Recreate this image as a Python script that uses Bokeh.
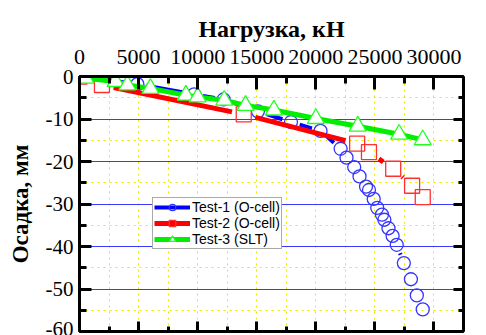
import math

from bokeh.plotting import figure
from bokeh.models import (Range1d, LinearAxis, SingleIntervalTicker, Legend, LegendItem,
                          CustomLabelingPolicy)
from bokeh.embed import file_html
from bokeh.resources import INLINE

# Load (kN) against settlement (mm) for three pile tests
load_test1 = [0, 4900, 9700, 12200, 15100, 17900, 20400, 22100, 22600, 23250, 23700,
              24250, 24500, 24900, 25200, 25600, 25800, 26150, 26500, 26850, 27450,
              28050, 28550, 29050]
settle_test1 = [0, -1.8, -4.2, -5.4, -8.2, -10.7, -12.8, -17.0, -19.1, -21.3, -23.5,
                -25.9, -26.7, -28.8, -30.9, -32.5, -33.7, -35.7, -37.5, -39.6, -43.9,
                -47.7, -51.5, -54.8]

load_test2 = [0, 1900, 13900, 23500, 24500, 26550, 28150, 29050]
settle_test2 = [0, -2.0, -8.9, -15.8, -17.8, -21.7, -25.7, -28.4]

load_test3 = [0, 500, 3050, 4050, 6000, 9000, 10000, 12250, 14050, 16450, 20000,
              23550, 27050, 29050]
settle_test3 = [0, -0.4, -1.2, -2.0, -2.8, -4.4, -4.8, -5.6, -6.8, -7.9, -9.9,
                -11.7, -13.6, -14.9]

series_labels = ["Test-1 (O-cell)", "Test-2 (O-cell)", "Test-3 (SLT)"]

x_tick_values = [0, 5000, 10000, 15000, 20000, 25000, 30000]
x_tick_labels = ["0", "5000", "10000", "15000", "20000", "25000", "30000"]
y_tick_values = [0, -10, -20, -30, -40, -50, -60]
y_tick_labels = ["0", "-10", "-20", "-30", "-40", "-50", "-60"]

X_MAX = 32500
Y_MIN, Y_MAX = -60, 0

W, H = 486, 335
B_LEFT, B_RIGHT, B_TOP, B_BOTTOM = 79, 23, 76, 4
FRAME_W = W - B_LEFT - B_RIGHT
FRAME_H = H - B_TOP - B_BOTTOM

p = figure(width=W, height=H, x_range=Range1d(0, X_MAX), y_range=Range1d(Y_MIN, Y_MAX),
           x_axis_location="above", output_backend="svg", toolbar_location=None,
           min_border_left=B_LEFT, min_border_right=B_RIGHT,
           min_border_top=B_TOP, min_border_bottom=B_BOTTOM)
p.outline_line_color = None
p.background_fill_color = "white"
p.border_fill_color = "white"

x_ticker = SingleIntervalTicker(interval=5000, num_minor_ticks=2)
y_ticker = SingleIntervalTicker(interval=10, num_minor_ticks=2)

bottom_axis = LinearAxis()
right_axis = LinearAxis()
p.add_layout(bottom_axis, "below")
p.add_layout(right_axis, "right")

top_axis = p.xaxis[0]
left_axis = p.yaxis[0]


def style_axis(ax, ticker, major_in, minor_in):
    ax.ticker = ticker
    ax.axis_line_width = 3
    ax.axis_line_color = "black"
    ax.major_tick_in = major_in
    ax.major_tick_out = 0
    ax.minor_tick_in = minor_in
    ax.minor_tick_out = 0
    ax.major_tick_line_width = 3
    ax.minor_tick_line_width = 3
    ax.major_tick_line_color = "black"
    ax.minor_tick_line_color = "black"


style_axis(top_axis, x_ticker, 13, 7)
style_axis(bottom_axis, x_ticker, 10, 5)
style_axis(left_axis, y_ticker, 12, 7)
style_axis(right_axis, y_ticker, 10, 5)

# the bottom and right axes only carry ticks, no labels
no_labels = CustomLabelingPolicy(code="""
    try {
        for (const i of Array.from(indices.ones())) indices.unset(i)
    } catch (e) {}
    return indices
""")
for ax in (bottom_axis, right_axis):
    ax.major_label_policy = no_labels
    ax.major_label_text_font_size = "0px"
    ax.major_label_standoff = 0

top_axis.major_label_overrides = dict(zip(x_tick_values, x_tick_labels))
top_axis.major_label_text_font = "Liberation Serif"
top_axis.major_label_text_font_size = "22px"
top_axis.major_label_text_color = "black"
top_axis.major_label_standoff = 13
top_axis.axis_label = "Нагрузка, кН"
top_axis.axis_label_text_font = "Liberation Serif"
top_axis.axis_label_text_font_style = "bold"
top_axis.axis_label_text_font_size = "24px"
top_axis.axis_label_text_color = "black"
top_axis.axis_label_standoff = 5

left_axis.major_label_overrides = dict(zip(y_tick_values, y_tick_labels))
left_axis.major_label_text_font = "Liberation Serif"
left_axis.major_label_text_font_size = "21px"
left_axis.major_label_text_color = "black"
left_axis.major_label_standoff = 6
left_axis.axis_label = "Осадка, мм"
left_axis.axis_label_text_font = "Liberation Serif"
left_axis.axis_label_text_font_style = "bold"
left_axis.axis_label_text_font_size = "23px"
left_axis.axis_label_text_color = "black"
left_axis.axis_label_standoff = 10

# grid: solid blue at major settlement ticks, dotted yellow at minor ticks
p.ygrid.ticker = y_ticker
p.ygrid.grid_line_color = "#3a3aff"
p.ygrid.grid_line_width = 1
p.ygrid.minor_grid_line_color = "#e8e800"
p.ygrid.minor_grid_line_dash = "2 4"
p.ygrid.minor_grid_line_width = 1
p.xgrid.ticker = x_ticker
p.xgrid.grid_line_color = None
p.xgrid.minor_grid_line_color = "#e8e800"
p.xgrid.minor_grid_line_dash = "2 4"
p.xgrid.minor_grid_line_width = 1


def gapped_segments(xs, ys, gap_px):
    """Connect consecutive points, leaving a gap of gap_px screen pixels round each marker."""
    kx = FRAME_W / X_MAX
    ky = FRAME_H / (Y_MAX - Y_MIN)
    x0, y0, x1, y1 = [], [], [], []
    for i in range(len(xs) - 1):
        dx = xs[i + 1] - xs[i]
        dy = ys[i + 1] - ys[i]
        d = math.hypot(dx * kx, dy * ky)
        if d <= 2 * gap_px:
            continue
        f = gap_px / d
        x0.append(xs[i] + dx * f)
        y0.append(ys[i] + dy * f)
        x1.append(xs[i + 1] - dx * f)
        y1.append(ys[i + 1] - dy * f)
    return dict(x0=x0, y0=y0, x1=x1, y1=y1)


# (x, y, line colour, marker colour, marker, size, gap, line width, marker fill)
series = [
    (load_test1, settle_test1, "#0000ff", "#3535ff", "circle", 13, 9, 4, None),
    (load_test2, settle_test2, "#ff0000", "#ff3030", "square", 15, 12, 5, None),
    (load_test3, settle_test3, "#00ee00", "#20ff20", "triangle", 17, 0, 5, "white"),
]

items = []
for (xs, ys, line_col, mark_col, marker, size, gap, lw, fill), label in zip(series, series_labels):
    seg = p.segment(source=gapped_segments(xs, ys, gap), x0="x0", y0="y0", x1="x1", y1="y1",
                    line_color=line_col, line_width=lw)
    sc = p.scatter(xs, ys, marker=marker, size=size, line_color=mark_col, line_width=1.3,
                   fill_color=fill)
    items.append(LegendItem(label=label, renderers=[seg, sc]))

legend = Legend(items=items, location=(73, 82))
legend.border_line_color = "#555555"
legend.border_line_width = 1
legend.background_fill_color = "white"
legend.background_fill_alpha = 1
legend.label_text_font = "Liberation Sans"
legend.label_text_font_size = "14px"
legend.label_text_color = "black"
legend.glyph_width = 36
legend.glyph_height = 16
legend.label_height = 16
legend.label_standoff = 2
legend.spacing = 0
legend.padding = 1
legend.margin = 0
p.add_layout(legend)

open("out.html", "w").write(file_html(p, INLINE))
